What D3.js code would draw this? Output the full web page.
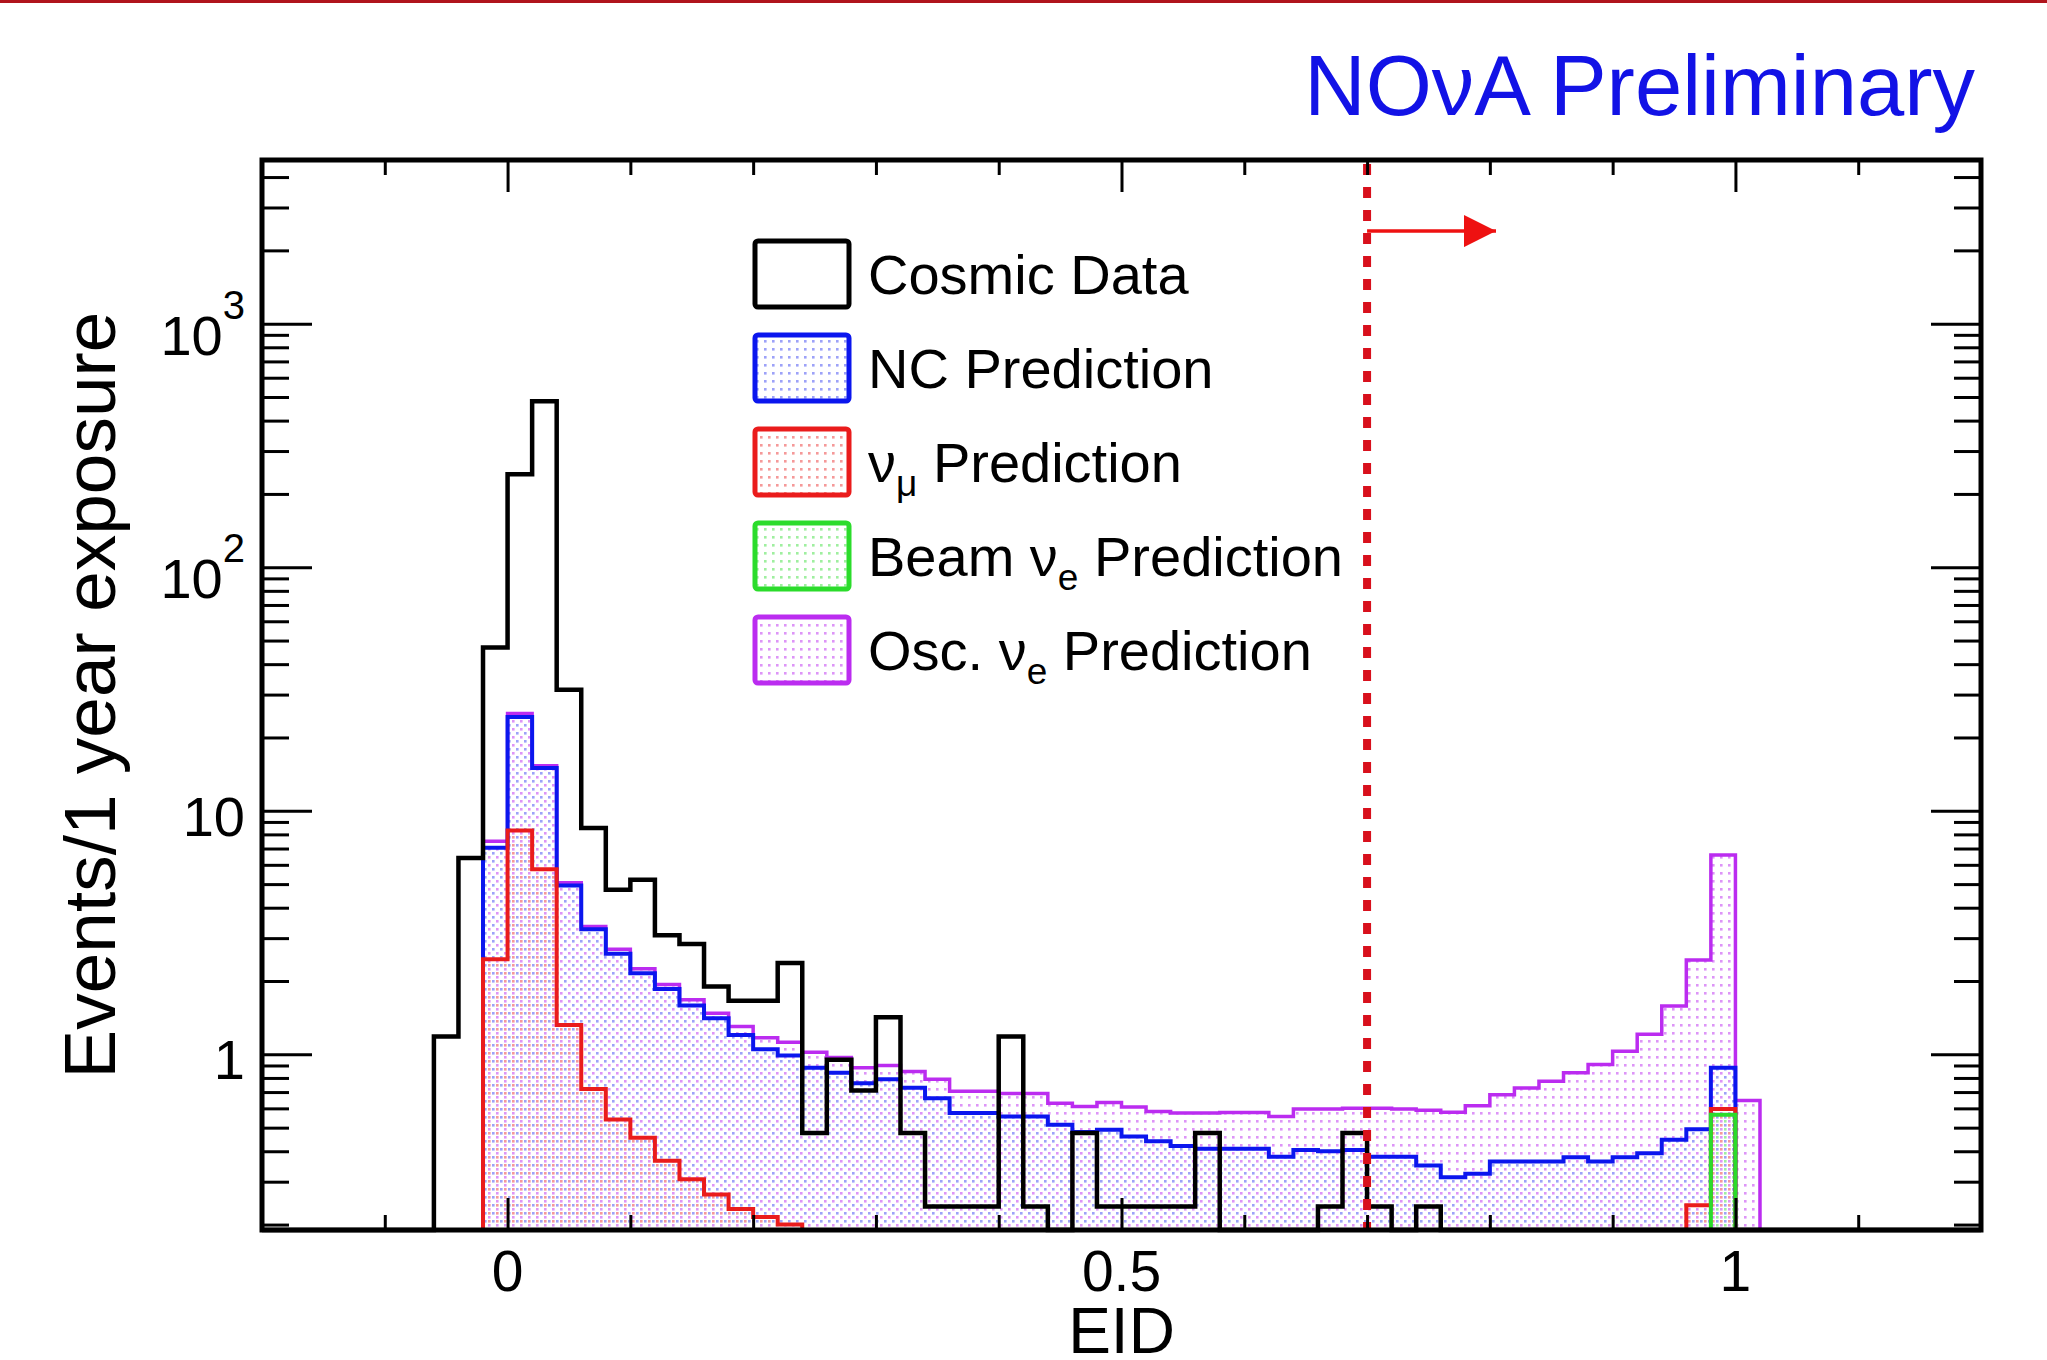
<!DOCTYPE html>
<html>
<head>
<meta charset="utf-8">
<script src="https://cdn.jsdelivr.net/npm/d3@7"></script>
<style>
  body { margin: 0; background: #fff; }
  svg { display: block; font-family: 'Liberation Sans', Arial, Helvetica, sans-serif; }
</style>
</head>
<body>
<div id="chart"></div>
<script>
// EID histograms, bins of 0.02 starting at -0.06 (everything else is empty)
const binStart = -0.06;
const binWidth = 0.02;

const cosmicData = [1.185, 6.4, 46.8, 241, 480, 31.4, 8.5, 4.74, 5.21, 3.08,
  2.84, 1.90, 1.66, 1.66, 2.37, 0.475, 0.95, 0.71, 1.42, 0.475,
  0.237, 0.237, 0.237, 1.185, 0.237, 0, 0.475, 0.237, 0.237, 0.237,
  0.237, 0.475, 0, 0, 0, 0, 0.237, 0.475, 0.237, 0,
  0.237, 0, 0, 0, 0, 0, 0, 0, 0, 0,
  0, 0, 0, 0, 0];

// stack components, bottom to top
const beamNuePred = [0, 0, 0, 0, 0, 0, 0, 0, 0, 0,
  0, 0, 0, 0, 0, 0, 0, 0, 0, 0,
  0, 0, 0, 0, 0, 0, 0, 0, 0, 0,
  0, 0, 0, 0, 0, 0, 0, 0, 0, 0,
  0, 0, 0, 0, 0, 0, 0, 0, 0, 0,
  0, 0, 0.565, 0, 0];

const numuPred = [0, 0, 2.46, 8.3, 5.76, 1.32, 0.72, 0.54, 0.454, 0.366,
  0.307, 0.266, 0.232, 0.215, 0.20, 0, 0, 0, 0, 0,
  0, 0, 0, 0, 0, 0, 0, 0, 0, 0,
  0, 0, 0, 0, 0, 0, 0, 0, 0, 0,
  0, 0, 0, 0, 0, 0, 0, 0, 0, 0,
  0, 0.24, 0.031, 0, 0];

const ncPred = [0, 0, 4.59, 16.0, 9.24, 3.62, 2.54, 2.05, 1.70, 1.49,
  1.28, 1.14, 0.97, 0.835, 0.79, 0.88, 0.84, 0.76, 0.79, 0.73,
  0.66, 0.574, 0.574, 0.556, 0.556, 0.514, 0.48, 0.49, 0.46, 0.44,
  0.42, 0.41, 0.41, 0.41, 0.38, 0.405, 0.40, 0.405, 0.38, 0.38,
  0.35, 0.313, 0.323, 0.363, 0.363, 0.363, 0.378, 0.363, 0.378, 0.393,
  0.446, 0.253, 0.284, 0, 0];

const oscNuePred = [0, 0, 0.45, 0.8, 0.3, 0.13, 0.09, 0.11, 0.09, 0.08,
  0.09, 0.07, 0.10, 0.12, 0.13, 0.14, 0.13, 0.12, 0.11, 0.12,
  0.13, 0.131, 0.131, 0.134, 0.134, 0.116, 0.13, 0.145, 0.148, 0.143,
  0.154, 0.164, 0.167, 0.167, 0.176, 0.191, 0.196, 0.195, 0.22, 0.216,
  0.24, 0.265, 0.292, 0.32, 0.365, 0.412, 0.462, 0.545, 0.652, 0.817,
  1.134, 1.947, 5.71, 0.647, 0];

const xTicksMajor = [0, 0.5, 1];
const xTickLabels = ['0', '0.5', '1'];
const xTicksMinor = [-0.1, 0.1, 0.2, 0.3, 0.4, 0.6, 0.7, 0.8, 0.9, 1.1];
const yTicksMajor = [1, 10, 100, 1000];
const yTickBase = ['1', '10', '10', '10'];
const yTickExp = ['', '', '2', '3'];

const cutValue = 0.7;
const arrowEnd = 0.805;
const arrowLevel = 2400;

const legendParts = [
  [['Cosmic Data', false]],
  [['NC Prediction', false]],
  [['\u03bd', false], ['\u03bc', true], [' Prediction', false]],
  [['Beam \u03bd', false], ['e', true], [' Prediction', false]],
  [['Osc. \u03bd', false], ['e', true], [' Prediction', false]]
];

const colors = {
  cosmic: '#000000',
  nc: '#0b16ee',
  numu: '#ea1c1c',
  beamNue: '#2bdc2b',
  oscNue: '#bb2cf0'
};

// ---------- layout ----------
const W = 2047, H = 1360;
const frame = { left: 262, right: 1981, top: 160, bottom: 1230 };

const svg = d3.select('#chart').append('svg')
  .attr('width', W)
  .attr('height', H);

svg.append('rect').attr('width', W).attr('height', H).attr('fill', '#fff');
svg.append('rect').attr('x', 0).attr('y', 0).attr('width', W).attr('height', 3).attr('fill', '#b0141c');

const x = d3.scaleLinear().domain([-0.2, 1.2]).range([frame.left, frame.right]);
const y = d3.scaleLog().domain([0.19, 4700]).range([frame.bottom, frame.top]);
const yMin = y.domain()[0];
const yPos = v => (v > yMin ? y(v) : frame.bottom);

// dotted fill patterns
const defs = svg.append('defs');
function dotPattern(id, color, dx, dy, op) {
  const p = defs.append('pattern')
    .attr('id', id)
    .attr('patternUnits', 'userSpaceOnUse')
    .attr('width', 8).attr('height', 8);
  p.append('rect')
    .attr('x', dx).attr('y', dy)
    .attr('width', 2.6).attr('height', 2.6)
    .attr('fill', color).attr('opacity', op);
}
dotPattern('pat-osc', colors.oscNue, 0, 0, 0.5);
dotPattern('pat-nc', colors.nc, 4, 4, 0.4);
dotPattern('pat-numu', colors.numu, 0, 4, 0.45);
dotPattern('pat-beam', colors.beamNue, 4, 0, 0.45);

// expand a short array into the full 70 bin range
const nBins = Math.round((x.domain()[1] - x.domain()[0]) / binWidth);
const offset = Math.round((binStart - x.domain()[0]) / binWidth);
function fullBins(arr) {
  const out = new Array(nBins).fill(0);
  arr.forEach((v, i) => { out[i + offset] = v; });
  return out;
}

// stack the predictions
const rows = d3.range(beamNuePred.length).map(i => ({
  beamNue: beamNuePred[i], numu: numuPred[i], nc: ncPred[i], oscNue: oscNuePred[i]
}));
const stack = d3.stack().keys(['beamNue', 'numu', 'nc', 'oscNue'])(rows);
const stackTop = {};
stack.forEach(s => { stackTop[s.key] = s.map(d => d[1]); });

function stepPoints(vals) {
  const pts = [[x.domain()[0], 0]];
  vals.forEach((v, i) => {
    const lo = x.domain()[0] + i * binWidth;
    pts.push([lo, v], [lo + binWidth, v]);
  });
  pts.push([x.domain()[1], 0]);
  return pts;
}

const line = d3.line().x(d => x(d[0])).y(d => yPos(d[1]));
const area = d3.area().x(d => x(d[0])).y0(frame.bottom).y1(d => yPos(d[1]));

const plot = svg.append('g');

// drawn from the top of the stack down, like a THStack
const order = [
  { key: 'oscNue', pat: 'pat-osc', w: 3.5 },
  { key: 'nc', pat: 'pat-nc', w: 4 },
  { key: 'numu', pat: 'pat-numu', w: 4 },
  { key: 'beamNue', pat: 'pat-beam', w: 4 }
];
order.forEach(o => {
  const pts = stepPoints(fullBins(stackTop[o.key]));
  plot.append('path').attr('d', area(pts)).attr('fill', `url(#${o.pat})`);
  plot.append('path').attr('d', line(pts))
    .attr('fill', 'none')
    .attr('stroke', colors[o.key])
    .attr('stroke-width', o.w);
});

// cosmic data on top
plot.append('path')
  .attr('d', line(stepPoints(fullBins(cosmicData))))
  .attr('fill', 'none')
  .attr('stroke', colors.cosmic)
  .attr('stroke-width', 4.5);

// cut line and arrow
plot.append('line')
  .attr('x1', x(cutValue)).attr('x2', x(cutValue))
  .attr('y1', frame.top + 4).attr('y2', frame.bottom)
  .attr('stroke', '#d8101c')
  .attr('stroke-width', 8)
  .attr('stroke-dasharray', '11 12');

defs.append('marker')
  .attr('id', 'arrowhead')
  .attr('viewBox', '0 0 10 10')
  .attr('refX', 10).attr('refY', 5)
  .attr('markerUnits', 'userSpaceOnUse')
  .attr('markerWidth', 58).attr('markerHeight', 32)
  .attr('orient', 'auto')
  .append('path').attr('d', 'M0,0 L10,5 L0,10 Z').attr('fill', '#ee1111');

plot.append('line')
  .attr('x1', x(cutValue)).attr('x2', x(arrowEnd))
  .attr('y1', y(arrowLevel)).attr('y2', y(arrowLevel))
  .attr('stroke', '#ee1111')
  .attr('stroke-width', 3.5)
  .attr('marker-end', 'url(#arrowhead)');

// ---------- axes (ROOT style, ticks inside on all four sides) ----------
const yMinor = [];
[0.1, 1, 10, 100, 1000].forEach(d => {
  for (let k = 2; k <= 9; k++) {
    const v = d * k;
    if (v > y.domain()[0] && v < y.domain()[1]) yMinor.push(v);
  }
});

function tickAxis(axis, transform) {
  const g = svg.append('g').attr('transform', transform).call(axis);
  g.select('.domain').remove();
  g.selectAll('.tick line').attr('stroke', '#000').attr('stroke-width', 3);
  g.selectAll('.tick text').remove();
  return g;
}
tickAxis(d3.axisBottom(x).tickValues(xTicksMajor).tickSize(-32), `translate(0,${frame.bottom})`);
tickAxis(d3.axisBottom(x).tickValues(xTicksMinor).tickSize(-15), `translate(0,${frame.bottom})`);
tickAxis(d3.axisTop(x).tickValues(xTicksMajor).tickSize(-32), `translate(0,${frame.top})`);
tickAxis(d3.axisTop(x).tickValues(xTicksMinor).tickSize(-15), `translate(0,${frame.top})`);
tickAxis(d3.axisLeft(y).tickValues(yTicksMajor).tickSize(-50), `translate(${frame.left},0)`);
tickAxis(d3.axisLeft(y).tickValues(yMinor).tickSize(-27), `translate(${frame.left},0)`);
tickAxis(d3.axisRight(y).tickValues(yTicksMajor).tickSize(-50), `translate(${frame.right},0)`);
tickAxis(d3.axisRight(y).tickValues(yMinor).tickSize(-27), `translate(${frame.right},0)`);

svg.append('rect')
  .attr('x', frame.left).attr('y', frame.top)
  .attr('width', frame.right - frame.left)
  .attr('height', frame.bottom - frame.top)
  .attr('fill', 'none')
  .attr('stroke', '#000')
  .attr('stroke-width', 5);

// tick labels
svg.append('g').selectAll('text')
  .data(xTicksMajor)
  .enter().append('text')
  .attr('x', d => x(d))
  .attr('y', frame.bottom + 61)
  .attr('text-anchor', 'middle')
  .style('font-size', '57px')
  .text((d, i) => xTickLabels[i]);

yTicksMajor.forEach((v, i) => {
  const t = svg.append('text')
    .attr('x', 245)
    .attr('text-anchor', 'end')
    .style('font-size', '56px');
  if (yTickExp[i]) {
    t.attr('y', y(v) + 31);
    t.append('tspan').text(yTickBase[i]);
    t.append('tspan').attr('dy', -36).style('font-size', '40px').text(yTickExp[i]);
  } else {
    t.attr('y', y(v) + 25).text(yTickBase[i]);
  }
});

// axis titles
svg.append('text')
  .attr('x', (frame.left + frame.right) / 2)
  .attr('y', 1353)
  .attr('text-anchor', 'middle')
  .style('font-size', '64px')
  .text('EID');

svg.append('text')
  .attr('transform', `translate(115,${(frame.top + frame.bottom) / 2}) rotate(-90)`)
  .attr('text-anchor', 'middle')
  .style('font-size', '73px')
  .text('Events/1 year exposure');

// experiment label
svg.append('text')
  .attr('x', 1975)
  .attr('y', 115)
  .attr('text-anchor', 'end')
  .style('font-size', '85px')
  .attr('fill', '#1212e6')
  .text('NO\u03bdA Preliminary');

// ---------- legend ----------
const legendKeys = ['cosmic', 'nc', 'numu', 'beamNue', 'oscNue'];
const legendFill = [null, 'pat-nc', 'pat-numu', 'pat-beam', 'pat-osc'];
const legend = svg.append('g');
legendKeys.forEach((k, i) => {
  const cy = 274 + i * 94;
  legend.append('rect')
    .attr('x', 755).attr('y', cy - 33)
    .attr('width', 94).attr('height', 66)
    .attr('rx', 3)
    .attr('fill', legendFill[i] ? `url(#${legendFill[i]})` : 'none')
    .attr('stroke', colors[k])
    .attr('stroke-width', 5);
  const t = legend.append('text')
    .attr('x', 868)
    .attr('y', cy + 20)
    .style('font-size', '56px');
  let shifted = false;
  legendParts[i].forEach(([s, sub]) => {
    const ts = t.append('tspan').text(s);
    if (sub) {
      ts.attr('dy', 14).style('font-size', '37px');
      shifted = true;
    } else if (shifted) {
      ts.attr('dy', -14);
      shifted = false;
    }
  });
});
</script>
</body>
</html>
